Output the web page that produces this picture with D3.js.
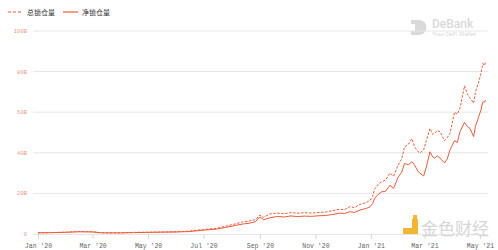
<!DOCTYPE html>
<html>
<head>
<meta charset="utf-8">
<script src="https://cdn.jsdelivr.net/npm/d3@7"></script>
<style>
  body { margin: 0; background: #fff; }
  svg { display: block; }
</style>
</head>
<body>
<div id="chart"></div>
<script>
// series, values in billions of USD
const dates = ['2020-01-01', '2020-01-15', '2020-02-01', '2020-02-15', '2020-03-01', '2020-03-12',
  '2020-04-01', '2020-04-15', '2020-05-01', '2020-05-15', '2020-06-01', '2020-06-15', '2020-07-01',
  '2020-07-15', '2020-07-25', '2020-08-05', '2020-08-13', '2020-08-20', '2020-08-27', '2020-09-01',
  '2020-09-05', '2020-09-12', '2020-09-20', '2020-09-28', '2020-10-05', '2020-10-12', '2020-10-20',
  '2020-10-28', '2020-11-05', '2020-11-12', '2020-11-20', '2020-11-28', '2020-12-03', '2020-12-09',
  '2020-12-14', '2020-12-20', '2020-12-27', '2020-12-31', '2021-01-03', '2021-01-05', '2021-01-09',
  '2021-01-13', '2021-01-17', '2021-01-22', '2021-01-26', '2021-01-31', '2021-02-04', '2021-02-07',
  '2021-02-11', '2021-02-15', '2021-02-18', '2021-02-22', '2021-02-24', '2021-02-28', '2021-03-03',
  '2021-03-07', '2021-03-10', '2021-03-12', '2021-03-15', '2021-03-18', '2021-03-23', '2021-03-26',
  '2021-03-29', '2021-04-03', '2021-04-06', '2021-04-09', '2021-04-14', '2021-04-17', '2021-04-20',
  '2021-04-24', '2021-04-26', '2021-04-29', '2021-05-02', '2021-05-04', '2021-05-06', '2021-05-07']
const totalLocked = [0.6, 0.7, 0.9, 1.2, 1.1, 0.6,
  0.6, 0.8, 0.9, 1.0, 1.1, 1.4, 2.2,
  2.8, 3.8, 5.0, 6.0, 6.4, 7.0, 9.3,
  8.2, 9.9, 10.3, 10.0, 10.6, 10.2, 10.5,
  10.3, 10.6, 10.8, 11.5, 12.2, 12.0, 13.5,
  13.0, 14.6, 15.5, 16.5, 18.5, 22.0, 24.5,
  25.8, 26.5, 30.0, 28.5, 34.0, 37.0, 43.0,
  44.0, 47.0, 43.0, 40.5, 40.0, 41.4, 46.0,
  52.0, 49.0, 49.6, 51.0, 50.4, 46.0, 47.5,
  49.6, 60.0, 59.0, 62.0, 73.0, 69.0, 67.0,
  64.5, 70.0, 74.0, 79.0, 84.0, 83.0, 85.0]
const netLocked = [0.6, 0.65, 0.85, 1.1, 1.0, 0.55,
  0.55, 0.7, 0.8, 0.9, 1.0, 1.2, 1.9,
  2.4, 3.2, 4.2, 4.9, 5.3, 6.0, 8.5,
  7.0, 8.0, 8.6, 8.4, 8.9, 8.6, 8.8,
  8.7, 9.0, 9.1, 9.6, 10.3, 10.1, 11.0,
  10.6, 11.8, 12.6, 13.4, 15.0, 17.5, 19.5,
  20.8, 21.0, 24.0, 22.5, 28.0, 30.5, 34.8,
  34.0, 35.6, 34.0, 30.7, 30.0, 28.6, 33.0,
  40.5, 38.0, 37.4, 38.5, 37.4, 35.0, 37.0,
  41.4, 46.0, 45.0, 50.4, 55.0, 53.0, 52.0,
  48.0, 53.0, 57.0, 61.0, 65.0, 65.0, 66.0]
const yTicks = [0, 20, 40, 60, 80, 100]
const seriesNames = ['总锁仓量', '净锁仓量']

const lineColor = '#f05a38'
const width = 498
const height = 250

const parse = d3.timeParse('%Y-%m-%d')
const days = dates.map(parse)

const svg = d3.select('#chart').append('svg')
  .attr('width', width)
  .attr('height', height)

const x = d3.scaleTime()
  .domain([parse('2020-01-01'), parse('2021-05-01')])
  .range([38, 480])
const y = d3.scaleLinear().domain([0, 100]).range([234, 31])

// watermarks
const deb = svg.append('g').attr('fill', '#d9d9d9')
deb.append('path')
  .attr('d', 'M411,20 h8 a7.5,7.5 0 0 1 0,15 h-8 v-4 h4 v-7 h-4 z')
deb.append('text').attr('x', 432).attr('y', 28)
  .attr('font-family', 'Roboto, sans-serif').attr('font-size', 12).attr('font-weight', 500)
  .text('DeBank')
deb.append('text').attr('x', 432).attr('y', 36)
  .attr('font-family', 'Roboto, sans-serif').attr('font-size', 6)
  .text('Your DeFi Wallet')

// horizontal grid + y labels
const yAxis = svg.append('g')
yAxis.selectAll('line').data(yTicks.filter(d => d > 0)).join('line')
  .attr('x1', 33).attr('x2', 488)
  .attr('y1', d => y(d)).attr('y2', d => y(d))
  .attr('stroke', '#e6e6e6').attr('stroke-width', 1)
yAxis.selectAll('text').data(yTicks).join('text')
  .attr('x', 27).attr('y', d => y(d) + 2)
  .attr('text-anchor', 'end')
  .attr('font-family', 'Liberation Mono, monospace')
  .attr('font-size', 5.5)
  .attr('fill', '#ee9a86')
  .text(d => d === 0 ? '0' : d + 'B')

// x axis
const xAxis = svg.append('g')
  .attr('transform', 'translate(0,' + y(0) + ')')
  .call(d3.axisBottom(x)
    .ticks(d3.timeMonth.every(2))
    .tickSize(5)
    .tickFormat(d3.timeFormat("%b '%y")))
xAxis.select('.domain').attr('stroke', '#e6e6e6').attr('d', 'M33,0.5H488')
xAxis.selectAll('.tick line').attr('stroke', '#d8d8d8')
xAxis.selectAll('.tick text')
  .attr('font-family', 'Liberation Mono, monospace')
  .attr('font-size', 6.5)
  .attr('fill', '#666')
  .attr('dy', '0.9em')

// 金色财经 watermark
const js = svg.append('g')
js.append('rect').attr('x', 403).attr('y', 219).attr('width', 15).attr('height', 15).attr('fill', '#f2b632')
js.append('rect').attr('x', 403).attr('y', 219).attr('width', 9).attr('height', 9).attr('fill', '#fff')
js.append('rect').attr('x', 413).attr('y', 215).attr('width', 4).attr('height', 4).attr('fill', '#f2b632')
js.append('text').attr('x', 421).attr('y', 235)
  .attr('font-family', 'Noto Sans CJK SC, sans-serif')
  .attr('font-size', 17)
  .attr('fill', '#d6d6d6')
  .text('金色财经')

// lines
const line = vals => d3.line()
  .x((d, i) => x(days[i]))
  .y(d => y(d))(vals)

svg.append('path')
  .attr('d', line(totalLocked))
  .attr('fill', 'none')
  .attr('stroke', lineColor)
  .attr('stroke-width', 1)
  .attr('stroke-dasharray', '2.5,1.5')

svg.append('path')
  .attr('d', line(netLocked))
  .attr('fill', 'none')
  .attr('stroke', lineColor)
  .attr('stroke-width', 1)

// legend
const legend = svg.append('g')
seriesNames.forEach((name, i) => {
  const lx = 8 + i * 55
  legend.append('line')
    .attr('x1', lx).attr('x2', lx + 15).attr('y1', 12).attr('y2', 12)
    .attr('stroke', lineColor).attr('stroke-width', 1.2)
    .attr('stroke-dasharray', i === 0 ? '3,2' : null)
  legend.append('text')
    .attr('x', lx + 19).attr('y', 14.5)
    .attr('font-family', 'Noto Sans CJK SC, sans-serif')
    .attr('font-size', 7)
    .attr('fill', '#333')
    .text(name)
})
</script>
</body>
</html>
